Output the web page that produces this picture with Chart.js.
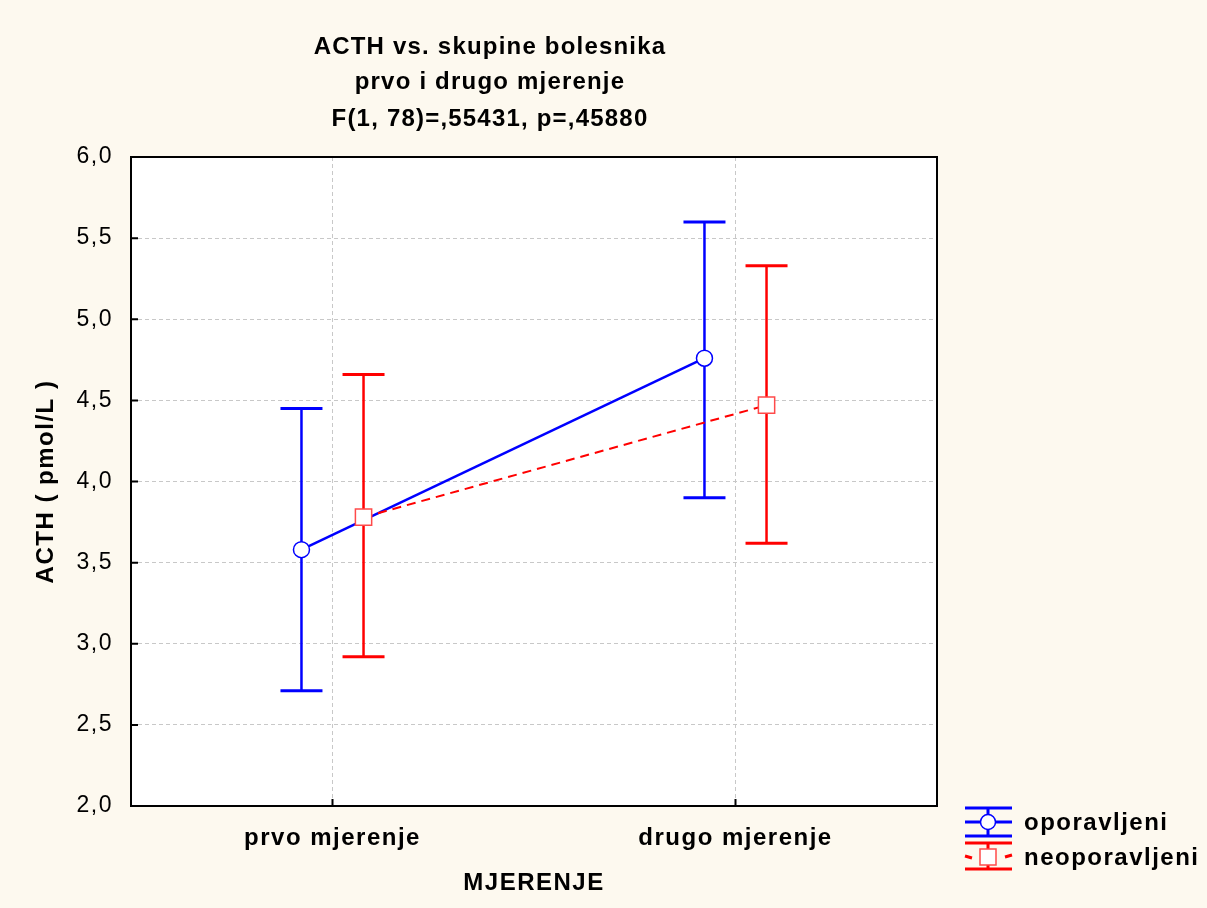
<!DOCTYPE html>
<html>
<head>
<meta charset="utf-8">
<script src="https://cdn.jsdelivr.net/npm/chart.js@4/dist/chart.umd.min.js"></script>
<style>
  html, body { margin: 0; padding: 0; background: #fdf9ef; }
  #wrap { width: 1207px; height: 908px; position: relative; }
</style>
</head>
<body>
<div id="wrap"><canvas id="acthChart"></canvas></div>
<script>
const categories = ["prvo mjerenje", "drugo mjerenje"];
const seriesNames = ["oporavljeni", "neoporavljeni"];
const oporavljeniMean = [3.58, 4.76];
const oporavljeniLow = [2.71, 3.90];
const oporavljeniHigh = [4.45, 5.60];
const neoporavljeniMean = [3.78, 4.47];
const neoporavljeniLow = [2.92, 3.62];
const neoporavljeniHigh = [4.66, 5.33];
const yTicks = [2.0, 2.5, 3.0, 3.5, 4.0, 4.5, 5.0, 5.5, 6.0];
const titleLines = ["ACTH vs. skupine bolesnika", "prvo i drugo mjerenje", "F(1, 78)=,55431, p=,45880"];

const BLUE = "#0000ff";
const RED = "#ff0000";
const FONT = "'Liberation Sans', Arial, sans-serif";
const shift = 0.077; // horizontal offset of each series from category centre

function points(means, dx) {
    return means.map((v, i) => ({ x: i + 0.5 + dx, y: v }));
}

const errorBars = {
    id: "errorBars",
    beforeDatasetsDraw(chart) {
        const ctx = chart.ctx;
        const xs = chart.scales.x, ys = chart.scales.y;
        const sets = [
            [oporavljeniLow, oporavljeniHigh, -shift, BLUE],
            [neoporavljeniLow, neoporavljeniHigh, shift, RED]
        ];
        ctx.save();
        sets.forEach(([lo, hi, dx, col]) => {
            lo.forEach((l, i) => {
                const x = xs.getPixelForValue(i + 0.5 + dx);
                const y1 = ys.getPixelForValue(l);
                const y2 = ys.getPixelForValue(hi[i]);
                ctx.strokeStyle = col;
                ctx.lineWidth = 2.5;
                ctx.beginPath();
                ctx.moveTo(x, y1); ctx.lineTo(x, y2);
                ctx.stroke();
                ctx.lineWidth = 3;
                ctx.beginPath();
                ctx.moveTo(x - 21, y1); ctx.lineTo(x + 21, y1);
                ctx.moveTo(x - 21, y2); ctx.lineTo(x + 21, y2);
                ctx.stroke();
            });
        });
        ctx.restore();
    }
};

const frame = {
    id: "frame",
    beforeDraw(chart) {
        const a = chart.chartArea, ctx = chart.ctx;
        ctx.save();
        ctx.fillStyle = "#fdf9ef";
        ctx.fillRect(0, 0, chart.width, chart.height);
        ctx.fillStyle = "#ffffff";
        ctx.fillRect(a.left, a.top, a.right - a.left, a.bottom - a.top);
        ctx.restore();
        // the original output has slightly loose letter spacing
        ctx.letterSpacing = "1.5px";
    },
    afterDraw(chart) {
        const a = chart.chartArea, ctx = chart.ctx;
        ctx.save();
        ctx.strokeStyle = "#000";
        ctx.lineWidth = 2;
        ctx.strokeRect(a.left, a.top, a.right - a.left, a.bottom - a.top);
        // inward tick marks
        ctx.beginPath();
        chart.scales.y.ticks.forEach(t => {
            const y = chart.scales.y.getPixelForValue(t.value);
            ctx.moveTo(a.left, y); ctx.lineTo(a.left + 7, y);
        });
        chart.scales.x.ticks.forEach(t => {
            const x = chart.scales.x.getPixelForValue(t.value);
            ctx.moveTo(x, a.bottom); ctx.lineTo(x, a.bottom - 7);
        });
        ctx.stroke();

        // title
        ctx.fillStyle = "#000";
        ctx.letterSpacing = "1.2px";
        ctx.font = "bold 24px " + FONT;
        ctx.textAlign = "center";
        ctx.textBaseline = "middle";
        [47, 82, 119].forEach((y, i) => ctx.fillText(titleLines[i], 490, y));

        // legend
        const cx = 988;
        ctx.strokeStyle = BLUE;
        ctx.lineWidth = 3;
        ctx.beginPath();
        ctx.moveTo(965, 808); ctx.lineTo(1012, 808);
        ctx.moveTo(965, 836); ctx.lineTo(1012, 836);
        ctx.moveTo(965, 822); ctx.lineTo(1012, 822);
        ctx.moveTo(cx, 808); ctx.lineTo(cx, 836);
        ctx.stroke();
        ctx.fillStyle = "#fff";
        ctx.lineWidth = 1.5;
        ctx.beginPath();
        ctx.arc(cx, 822, 7.5, 0, Math.PI * 2);
        ctx.fill(); ctx.stroke();

        ctx.strokeStyle = RED;
        ctx.lineWidth = 3;
        ctx.beginPath();
        ctx.moveTo(965, 843); ctx.lineTo(1012, 843);
        ctx.moveTo(965, 869); ctx.lineTo(1012, 869);
        ctx.moveTo(cx, 843); ctx.lineTo(cx, 869);
        ctx.moveTo(965, 856); ctx.lineTo(972, 858);
        ctx.moveTo(1005, 857); ctx.lineTo(1012, 855);
        ctx.stroke();
        ctx.fillStyle = "#fff";
        ctx.strokeStyle = "#ff4a4a";
        ctx.lineWidth = 1.5;
        ctx.fillRect(cx - 8, 849, 16, 16);
        ctx.strokeRect(cx - 8, 849, 16, 16);

        ctx.fillStyle = "#000";
        ctx.letterSpacing = "1.5px";
        ctx.textAlign = "left";
        ctx.fillText(seriesNames[0], 1024, 823);
        ctx.fillText(seriesNames[1], 1024, 858);
        ctx.restore();
    }
};

new Chart(document.getElementById("acthChart"), {
    type: "line",
    data: {
        datasets: [
            {
                label: seriesNames[0],
                data: points(oporavljeniMean, -shift),
                borderColor: BLUE,
                borderWidth: 2.5,
                pointStyle: "circle",
                pointRadius: 8,
                pointBackgroundColor: "#fff",
                pointBorderColor: BLUE,
                pointBorderWidth: 1.5,
                order: 1
            },
            {
                label: seriesNames[1],
                data: points(neoporavljeniMean, shift),
                borderColor: RED,
                borderWidth: 2,
                borderDash: [9, 6],
                pointStyle: "rect",
                pointRadius: 11.5,
                pointBackgroundColor: "#fff",
                pointBorderColor: "#ff4a4a",
                pointBorderWidth: 1.5,
                order: 0
            }
        ]
    },
    options: {
        responsive: true,
        maintainAspectRatio: false,
        animation: false,
        layout: { padding: { top: 157, right: 270, bottom: 0, left: 0 } },
        plugins: {
            legend: { display: false },
            tooltip: { enabled: false },
            title: { display: false }
        },
        scales: {
            x: {
                type: "linear",
                min: 0,
                max: 2,
                afterBuildTicks: s => { s.ticks = categories.map((c, i) => ({ value: i + 0.5 })); },
                afterFit: s => { s.height = 102; },
                ticks: {
                    callback: v => categories[Math.round(v - 0.5)],
                    color: "#000",
                    padding: 18,
                    maxRotation: 0,
                    font: { family: FONT, size: 24, weight: "bold" }
                },
                grid: { color: "#c8c8c8", lineWidth: 1, drawTicks: false },
                border: { display: false, dash: [4, 3] },
                title: {
                    display: true,
                    text: "MJERENJE",
                    color: "#000",
                    padding: { top: 0, bottom: 10 },
                    font: { family: FONT, size: 24, weight: "bold" }
                }
            },
            y: {
                min: 2,
                max: 6,
                afterBuildTicks: s => { s.ticks = yTicks.map(v => ({ value: v })); },
                afterFit: s => { s.width = 131; },
                ticks: {
                    callback: v => v.toFixed(1).replace(".", ","),
                    color: "#000",
                    padding: 18,
                    font: { family: FONT, size: 23 }
                },
                grid: { color: "#c8c8c8", lineWidth: 1, drawTicks: false },
                border: { display: false, dash: [4, 3] },
                title: {
                    display: true,
                    text: "ACTH ( pmol/L )",
                    color: "#000",
                    padding: { top: 32, bottom: 0 },
                    font: { family: FONT, size: 24, weight: "bold" }
                }
            }
        }
    },
    plugins: [frame, errorBars]
});
</script>
</body>
</html>
